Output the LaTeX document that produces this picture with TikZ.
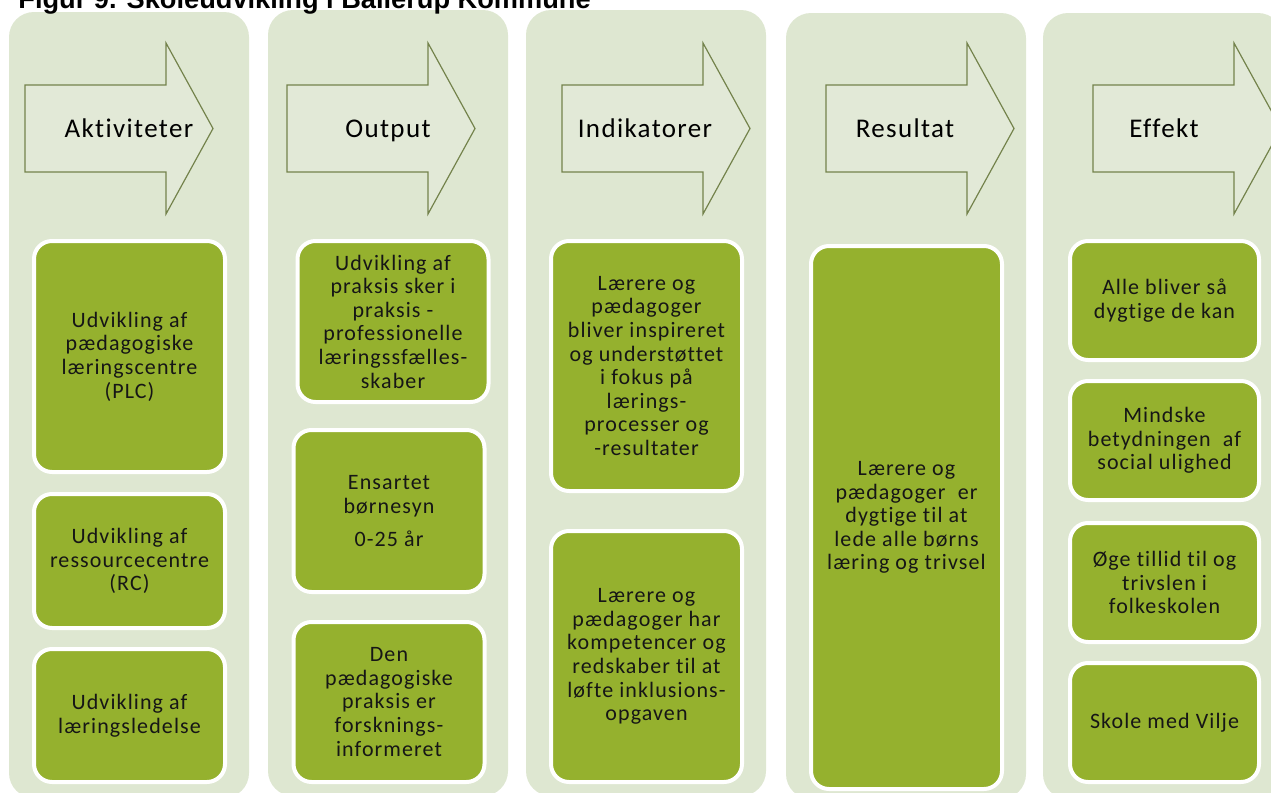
\documentclass[tikz,border=0pt]{standalone}
\usepackage{fontspec}
\usepackage{tikz}
\newfontfamily\carlito[LetterSpace=5,Ligatures=NoCommon]{Carlito}
\newfontfamily\arialfont{Liberation Sans}
\definecolor{colbg}{HTML}{DEE7D1}
\definecolor{arrowbg}{HTML}{E2E9D7}
\definecolor{arrowline}{HTML}{74834C}
\definecolor{itemgreen}{HTML}{95B12E}
\definecolor{itemtext}{HTML}{161616}
\newcommand\itemfont{\carlito\fontsize{11}{11.8}\selectfont}
\newcommand\headfont{\carlito\fontsize{13.5}{16}\selectfont}

\begin{document}
\begin{tikzpicture}[x=0.5pt,y=-0.5pt,
  column/.style={fill=colbg, rounded corners=12.5pt},
  blockarrow/.style={fill=arrowbg, draw=arrowline, line width=0.6pt, line join=miter},
  arrowlabel/.style={anchor=base, inner sep=0pt, font=\headfont, text=black},
  item/.style={fill=itemgreen, draw=white, line width=2pt, rounded corners=9pt,
    align=center, inner sep=2pt, font=\itemfont, text=itemtext}]

\useasboundingbox (0,0) rectangle (1271,793);

% Columns
\foreach \x/\top in {9/12, 268/10, 526/10, 786/13, 1043/13}
  \fill[column] (\x,\top) rectangle ++(240,786);

% Block arrows with the headings
\foreach \x in {25,287,562,826,1093}
  \draw[blockarrow] (\x,85) -- ({\x+141},85) -- ({\x+141},43) -- ({\x+188},128.5)
    -- ({\x+141},214) -- ({\x+141},172) -- (\x,172) -- cycle;

\foreach \c/\name/\txt in {129/akt/Aktiviteter, 388/out/Output, 645/ind/Indikatorer,
    905/res/Resultat, 1164/eff/Effekt}
  \node[arrowlabel] (\name) at (\c,137) {\txt};

% Aktiviteter
\node[item, minimum width=95.5pt, minimum height=115.5pt] (akt1) at (129.5,356.5) {Udvikling af\\pædagogiske\\læringscentre\\(PLC)};
\node[item, minimum width=95.5pt, minimum height=67pt] (akt2) at (129.5,561) {Udvikling af\\ressourcecentre\\(RC)};
\node[item, minimum width=95.5pt, minimum height=66.5pt] (akt3) at (129.5,715.5) {Udvikling af\\læringsledelse};

% Output
\node[item, minimum width=95.5pt, minimum height=80.5pt] (out1) at (393,321.5) {Udvikling af\\praksis sker i\\praksis -\\professionelle\\læringssfælles-\\skaber};
\node[item, minimum width=95.5pt, minimum height=81pt] (out2) at (389,511) {Ensartet\\børnesyn\\[4.5pt]0-25 år};
\node[item, minimum width=95.5pt, minimum height=80pt] (out3) at (389,702) {Den\\pædagogiske\\praksis er\\forsknings-\\informeret};

% Indikatorer
\node[item, minimum width=95.5pt, minimum height=125pt] (ind1) at (646.5,366) {Lærere og\\pædagoger\\bliver inspireret\\og understøttet\\i fokus på\\lærings-\\processer og\\-resultater};
\node[item, minimum width=95.5pt, minimum height=125.5pt] (ind2) at (646.5,656.5) {Lærere og\\pædagoger har\\kompetencer og\\redskaber til at\\løfte inklusions-\\opgaven};

% Resultat
\node[item, minimum width=95.5pt, minimum height=271.5pt] (res1) at (906.5,517.5) {Lærere og\\pædagoger\ \ er\\dygtige til at\\lede alle børns\\læring og trivsel};

% Effekt
\node[item, minimum width=94.5pt, minimum height=59.5pt] (eff1) at (1164.5,300.5) {Alle bliver så\\dygtige de kan};
\node[item, minimum width=94.5pt, minimum height=59.5pt] (eff2) at (1164.5,440.5) {Mindske\\betydningen\ \ af\\social ulighed};
\node[item, minimum width=94.5pt, minimum height=59.5pt] (eff3) at (1164.5,582.5) {Øge tillid til og\\trivslen i\\folkeskolen};
\node[item, minimum width=94.5pt, minimum height=59.5pt] (eff4) at (1164.5,722.5) {Skole med Vilje};

% Title, cut by the top edge
\node[anchor=base west, inner sep=0pt, font=\arialfont\bfseries\fontsize{13.6}{16}\selectfont] (titel) at (18,8) {Figur 9. Skoleudvikling i Ballerup Kommune};

\end{tikzpicture}
\end{document}
